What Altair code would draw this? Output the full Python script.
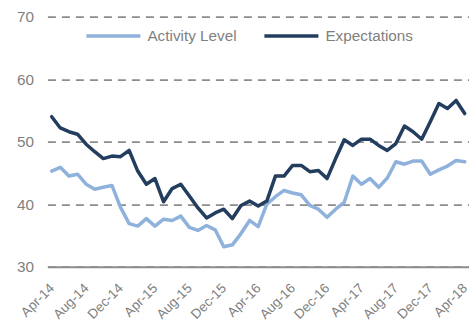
import altair as alt
import pandas as pd

months = pd.date_range("2014-04-01", periods=49, freq="MS").strftime("%b-%y").tolist()
tick_labels = ["Apr-14", "Aug-14", "Dec-14", "Apr-15", "Aug-15", "Dec-15", "Apr-16",
               "Aug-16", "Dec-16", "Apr-17", "Aug-17", "Dec-17", "Apr-18"]
series_names = ["Activity Level", "Expectations"]
series_colors = ["#8FB2DC", "#223D5E"]

activity = [45.3, 45.9, 44.5, 44.8, 43.2, 42.4, 42.7, 43.0, 39.5, 36.9,
            36.5, 37.7, 36.5, 37.6, 37.4, 38.1, 36.3, 35.8, 36.6, 35.9,
            33.2, 33.5, 35.3, 37.4, 36.4, 40.0, 41.2, 42.2, 41.8, 41.5,
            39.8, 39.2, 37.9, 39.2, 40.3, 44.5, 43.2, 44.1, 42.7, 44.2,
            46.8, 46.4, 46.9, 46.9, 44.8, 45.5, 46.1, 47.0, 46.8]
expectations = [54.0, 52.2, 51.6, 51.2, 49.6, 48.4, 47.3, 47.7, 47.6, 48.6,
                45.3, 43.2, 44.1, 40.4, 42.5, 43.2, 41.3, 39.4, 37.8, 38.6,
                39.2, 37.7, 39.8, 40.5, 39.7, 40.5, 44.5, 44.5, 46.2, 46.2,
                45.2, 45.4, 44.1, 47.3, 50.3, 49.4, 50.4, 50.4, 49.4, 48.6,
                49.7, 52.5, 51.6, 50.4, 53.2, 56.1, 55.3, 56.6, 54.5]
y_ticks = [30, 40, 50, 60, 70]

rows = []
for name, vals in zip(series_names, [activity, expectations]):
    for i, v in enumerate(vals):
        rows.append({"idx": i, "month": months[i], "value": v, "series": name})
df = pd.DataFrame(rows)

label_expr = "[" + ",".join(f"'{t}'" for t in tick_labels) + "][round(datum.value/4)]"
GRAY = "#7F7F7F"
FS = 15.3

chart = alt.Chart(df).mark_line(strokeWidth=3.5, strokeCap="round", strokeJoin="round").encode(
    x=alt.X("idx:Q",
            scale=alt.Scale(domain=[-0.5, 48.5], nice=False, zero=False),
            axis=alt.Axis(values=list(range(0, 49, 4)), labelExpr=label_expr,
                          labelAngle=-45, labelAlign="right", labelBaseline="middle",
                          labelPadding=19, ticks=False, grid=False,
                          domainColor="#8C8C8C", domainWidth=2,
                          labelFontSize=13.5, labelColor=GRAY, title=None,
                          labelOverlap=False)),
    y=alt.Y("value:Q",
            scale=alt.Scale(domain=[30, 70], nice=False, zero=False),
            axis=alt.Axis(values=y_ticks, grid=True, gridDash=[8, 6], gridColor="#8C8C8C",
                          gridWidth=1.75, domain=False, ticks=False, labelPadding=14,
                          labelFontSize=FS, labelColor=GRAY, title=None)),
    color=alt.Color("series:N",
                    scale=alt.Scale(domain=series_names, range=series_colors),
                    legend=alt.Legend(orient="none", legendX=37, legendY=-10,
                                      direction="horizontal", title=None,
                                      symbolType="stroke", symbolSize=2916,
                                      symbolStrokeWidth=3.5, labelFontSize=FS,
                                      labelColor=GRAY, columnPadding=20, labelOffset=5)),
).properties(
    width=421.6, height=250, autosize="none",
    padding={"left": 47.4, "top": 16.7, "right": 0, "bottom": 55.3},
).configure(font="Liberation Sans").configure_view(stroke=None)

chart.save("out.html", embed_options={"renderer": "svg", "actions": False})
